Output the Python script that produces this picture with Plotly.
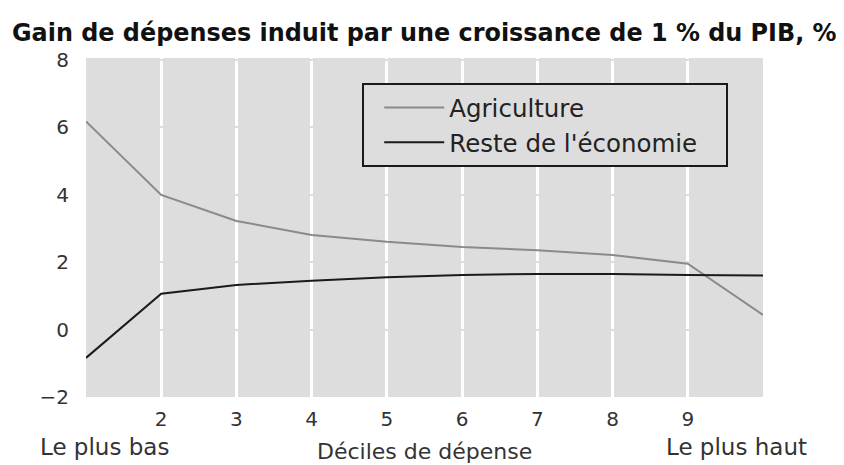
import plotly.graph_objects as go

deciles = [1, 2, 3, 4, 5, 6, 7, 8, 9, 10]
agriculture = [6.17, 3.99, 3.22, 2.8, 2.6, 2.45, 2.35, 2.21, 1.95, 0.43]
reste = [-0.84, 1.06, 1.32, 1.45, 1.55, 1.62, 1.65, 1.65, 1.62, 1.6]
x_tickvals = [2, 3, 4, 5, 6, 7, 8, 9]
y_tickvals = [-2, 0, 2, 4, 6, 8]
title_text = "Gain de dépenses induit par une croissance de 1 % du PIB, %"
x_title = "Déciles de dépense"
low_label = "Le plus bas"
high_label = "Le plus haut"
series_names = ["Agriculture", "Reste de l'économie"]

BG = "#dddddd"
FONT = "DejaVu Sans"
TXT = "#333333"

fig = go.Figure()
fig.add_trace(go.Scatter(x=deciles, y=agriculture, mode="lines", name=series_names[0],
                         line=dict(color="#8a8a8a", width=2)))
fig.add_trace(go.Scatter(x=deciles, y=reste, mode="lines", name=series_names[1] + "\u00a0\u00a0\u00a0",
                         line=dict(color="#1a1a1a", width=2)))

# page body adds an 8px offset, so the figure is 8px smaller than the window
fig.update_layout(
    width=836, height=457,
    margin=dict(l=78, r=81, t=50, b=68, autoexpand=False),
    paper_bgcolor="white", plot_bgcolor=BG,
    font=dict(family=FONT, size=20, color=TXT),
    showlegend=True,
    legend=dict(x=0.408, y=0.926, xanchor="left", yanchor="top",
                bgcolor=BG, bordercolor="#1a1a1a", borderwidth=2,
                font=dict(family=FONT, size=24.5, color="#222222"),
                itemwidth=60, indentation=15, tracegroupgap=0),
    annotations=[
        dict(text=f"<b>{title_text}</b>", xref="paper", yref="paper", x=-0.1123, y=1.0,
             xanchor="left", yanchor="middle", yshift=25, showarrow=False,
             font=dict(family=FONT, size=23.9, color="#111111")),
        dict(text=low_label, xref="x", yref="paper", x=1, y=0, xanchor="left", yanchor="middle",
             xshift=-48, yshift=-50, showarrow=False, font=dict(family=FONT, size=23, color=TXT)),
        dict(text=high_label, xref="x", yref="paper", x=10, y=0, xanchor="right", yanchor="middle",
             xshift=46, yshift=-50, showarrow=False, font=dict(family=FONT, size=23, color=TXT)),
        dict(text=x_title, xref="paper", yref="paper", x=0.5, y=0, xanchor="center", yanchor="bottom",
             yshift=-69, showarrow=False, font=dict(family=FONT, size=22, color=TXT)),
    ],
)
fig.update_xaxes(range=[1, 10], tickvals=x_tickvals, showgrid=True, gridcolor="white", gridwidth=3,
                 zeroline=False, showline=False, ticks="", ticklabelstandoff=8, automargin=False)
fig.update_yaxes(range=[-2, 8.05], tickvals=y_tickvals, showgrid=True, gridcolor=BG, gridwidth=2,
                 zeroline=False, showline=False, ticks="", ticklabelstandoff=16, automargin=False)

fig.write_html("out.html")
